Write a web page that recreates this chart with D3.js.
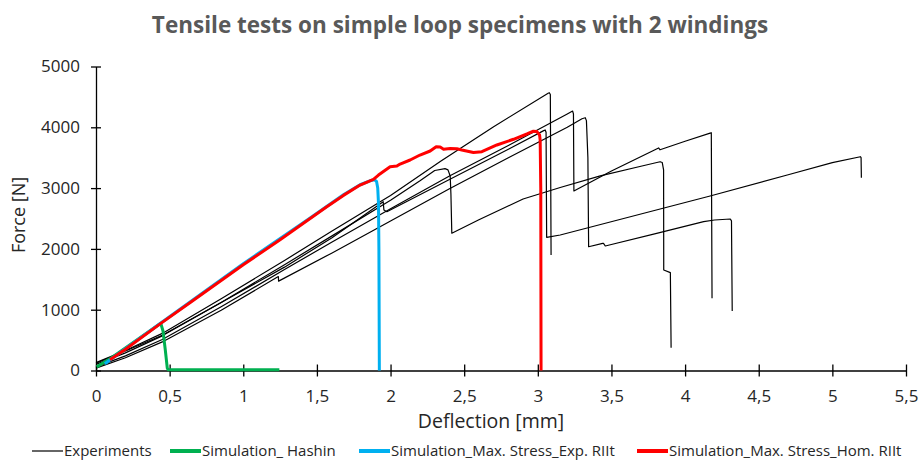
<!DOCTYPE html>
<html>
<head>
<meta charset="utf-8">
<script src="https://cdn.jsdelivr.net/npm/d3@7"></script>
<style>
    body { margin: 0; background: #fff; }
    svg { display: block; font-family: "Open Sans", sans-serif; }
</style>
</head>
<body>
<div id="chart"></div>
<script>
// deflection [mm], force [N]
const exp1 = [[0,130],[0.2,330],[0.45,610],[0.85,1180],[1.28,1810],[1.6,2290],[2.0,2880],[2.34,3440],[2.7,4010],[3.07,4560],[3.078,4569],[3.085,4540],[3.09,1899]]
const exp2 = [[0,60],[0.2,240],[0.45,510],[0.85,1050],[1.28,1660],[1.6,2110],[2.0,2660],[2.4,3200],[2.8,3700],[3.2,4220],[3.236,4268],[3.242,4220],[3.245,2952],[3.5,3280],[3.82,3660],[3.83,3630],[4.0,3770],[4.17,3905],[4.178,3911],[4.183,1187]]
const exp3 = [[0,40],[0.2,210],[0.45,470],[0.85,990],[1.238,1545],[1.24,1470],[1.6,1930],[2.0,2460],[2.4,2990],[2.8,3500],[3.2,4000],[3.3,4140],[3.322,4158],[3.33,4110],[3.34,3500],[3.345,2036],[3.44,2092],[3.446,2092],[3.458,2048],[3.8,2250],[4.126,2448],[4.2,2475],[4.307,2492],[4.315,2460],[4.32,979]]
const exp4 = [[0,100],[0.2,290],[0.45,570],[0.85,1120],[1.28,1740],[1.6,2210],[2.0,2800],[2.2,3120],[2.3,3290],[2.37,3320],[2.39,3300],[2.405,3200],[2.41,2900],[2.416,2257],[2.6,2480],[2.9,2820],[3.152,3010],[3.424,3200],[3.7,3360],[3.83,3434],[3.845,3420],[3.854,3300],[3.855,1653],[3.9,1609],[3.905,375]]
const exp5 = [[0,120],[0.2,320],[0.45,580],[0.85,1120],[1.28,1700],[1.6,2180],[1.95,2776],[1.955,2640],[1.975,2612],[2.4,3140],[2.8,3640],[3.04,3945],[3.05,3956],[3.056,3920],[3.06,2190],[3.152,2229],[4.17,2870],[4.7,3220],[5.0,3420],[5.19,3516],[5.195,3500],[5.197,3171]]
const hashin = [[0.005,60],[0.1,200],[0.44,776],[0.455,650],[0.47,350],[0.484,40],[0.49,12],[1.245,12]]
const maxStressExpRIIt = [[0.06,110],[0.44,780],[1.0,1755],[1.454,2510],[1.68,2890],[1.793,3055],[1.86,3120],[1.89,3138],[1.905,3110],[1.913,3000],[1.918,2750],[1.921,2000],[1.924,0]]
const maxStressHomRIIt = [[0.095,175],[0.2,350],[0.44,775],[0.64,1120],[1.0,1740],[1.25,2150],[1.454,2500],[1.567,2694],[1.68,2880],[1.793,3050],[1.884,3145],[1.918,3215],[1.997,3352],[2.043,3363],[2.065,3396],[2.133,3462],[2.2,3544],[2.269,3610],[2.31,3680],[2.337,3675],[2.36,3640],[2.405,3650],[2.45,3648],[2.484,3627],[2.563,3585],[2.62,3599],[2.722,3709],[2.835,3803],[2.926,3890],[2.97,3935],[2.994,3930],[3.012,3873],[3.016,3790],[3.02,3000],[3.022,0]]

const xTicks = [0,0.5,1,1.5,2,2.5,3,3.5,4,4.5,5,5.5]
const xTickLabels = ["0","0,5","1","1,5","2","2,5","3","3,5","4","4,5","5","5,5"]
const yTicks = [0,1000,2000,3000,4000,5000]
const yTickLabels = ["0","1000","2000","3000","4000","5000"]
const legendLabels = ["Experiments","Simulation_ Hashin","Simulation_Max. Stress_Exp. RIIt","Simulation_Max. Stress_Hom. RIIt"]

const width = 920, height = 464;
let margin = {top: 66.5, right: 14, bottom: 93.5, left: 96};

const svg = d3.select("#chart").append("svg")
    .attr("width", width)
    .attr("height", height);

const x = d3.scaleLinear().domain([0, 5.5]).range([margin.left, width - margin.right]);
const y = d3.scaleLinear().domain([0, 5000]).range([height - margin.bottom, margin.top]);

// title
svg.append("text")
    .attr("x", 460)
    .attr("y", 33)
    .attr("text-anchor", "middle")
    .style("font-size", "22.5px")
    .style("font-weight", 700)
    .style("fill", "#595959")
    .text("Tensile tests on simple loop specimens with 2 windings");

// X axis, ticks cross the line
const gx = svg.append("g")
    .attr("transform", `translate(0,${y(0)})`)
    .call(d3.axisBottom(x).tickValues(xTicks).tickFormat((d, i) => xTickLabels[i])
        .tickSize(6).tickSizeOuter(0).tickPadding(13.5));
gx.selectAll(".tick line").attr("y1", -6).attr("y2", 6);

// Y axis
const gy = svg.append("g")
    .attr("transform", `translate(${x(0)},0)`)
    .call(d3.axisLeft(y).tickValues(yTicks).tickFormat((d, i) => yTickLabels[i])
        .tickSize(5).tickSizeOuter(0).tickPadding(11));
gy.selectAll(".tick line").attr("x1", 5).attr("x2", -5);

svg.selectAll(".domain, .tick line").attr("stroke", "#000").attr("stroke-width", 1.3);
svg.selectAll(".tick text")
    .style("font-family", "'Open Sans', sans-serif")
    .style("font-size", "17px")
    .style("fill", "#262626");

// axis titles
svg.append("text")
    .attr("x", 491)
    .attr("y", 428)
    .attr("text-anchor", "middle")
    .style("font-size", "19.5px")
    .style("fill", "#262626")
    .text("Deflection [mm]");

svg.append("text")
    .attr("transform", "translate(25,215)rotate(-90)")
    .attr("text-anchor", "middle")
    .style("font-size", "18px")
    .style("fill", "#262626")
    .text("Force [N]");

// curves
const line = d3.line().x(d => x(d[0])).y(d => y(d[1]));
const series = [
    {data: exp1, color: "#000", w: 1.2},
    {data: exp2, color: "#000", w: 1.2},
    {data: exp3, color: "#000", w: 1.2},
    {data: exp4, color: "#000", w: 1.2},
    {data: exp5, color: "#000", w: 1.2},
    {data: hashin, color: "#00B050", w: 3},
    {data: maxStressExpRIIt, color: "#00B0F0", w: 3},
    {data: maxStressHomRIIt, color: "#FF0000", w: 3}
];
svg.append("g").selectAll("path")
    .data(series)
    .join("path")
    .attr("d", d => line(d.data))
    .attr("fill", "none")
    .attr("stroke", d => d.color)
    .attr("stroke-width", d => d.w)
    .attr("stroke-linejoin", "round");

// legend
const legendColors = ["#000", "#00B050", "#00B0F0", "#FF0000"];
const legendX = [32, 170, 359, 637];
const legend = svg.append("g").selectAll("g")
    .data(legendLabels)
    .join("g")
    .attr("transform", (d, i) => `translate(${legendX[i]},451)`);
legend.append("line")
    .attr("x1", 0).attr("x2", 31)
    .attr("stroke", (d, i) => legendColors[i])
    .attr("stroke-width", (d, i) => i === 0 ? 1.2 : 4);
legend.append("text")
    .attr("x", 32)
    .attr("dy", "0.35em")
    .style("font-size", "15px")
    .style("fill", "#262626")
    .text(d => d);
</script>
</body>
</html>
